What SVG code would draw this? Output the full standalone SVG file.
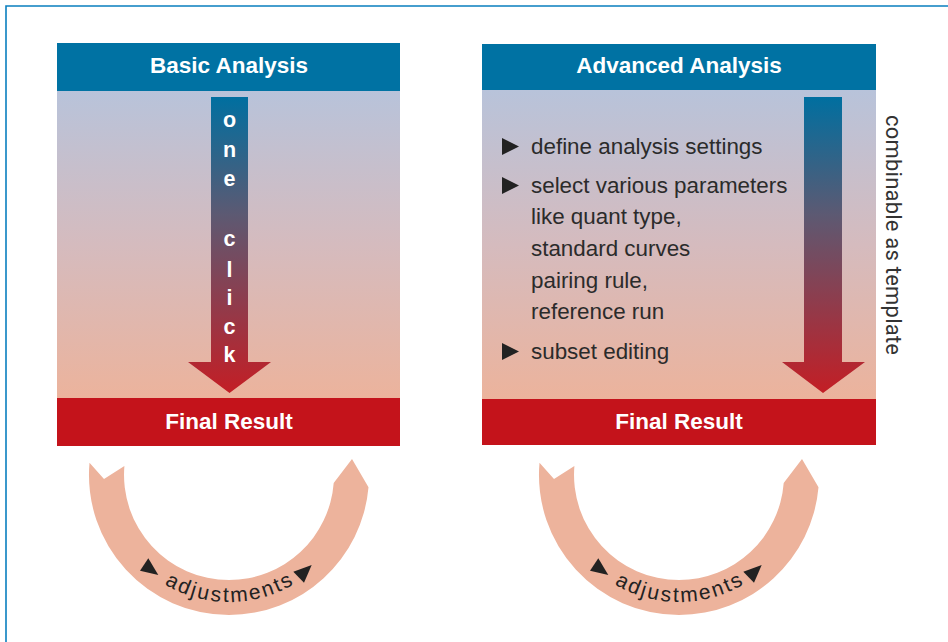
<svg xmlns="http://www.w3.org/2000/svg" width="948" height="642" viewBox="0 0 948 642">
<defs>
<linearGradient id="bodyGrad" x1="0" y1="0" x2="0" y2="1">
<stop offset="0" stop-color="#b8c3da"/>
<stop offset="0.5" stop-color="#d5bbbe"/>
<stop offset="1" stop-color="#ecb39c"/>
</linearGradient>
<linearGradient id="arrowGrad" gradientUnits="userSpaceOnUse" x1="0" y1="97" x2="0" y2="393">
<stop offset="0" stop-color="#006fa0"/>
<stop offset="0.4" stop-color="#5d5972"/>
<stop offset="1" stop-color="#c31e25"/>
</linearGradient>
<path id="arcL" d="M102,475 A127,127 0 0 0 356,475"/>
<path id="arcR" d="M552,475 A127,127 0 0 0 806,475"/>
</defs>
<style>
.hdr{fill:#0072a3}
.res{fill:#c4131b}
.ttl{font-family:"Liberation Sans",Arial,sans-serif;font-weight:bold;font-size:22.5px;fill:#fff;text-anchor:middle}
.oc{font-family:"Liberation Sans",Arial,sans-serif;font-weight:bold;font-size:21.5px;fill:#fff;text-anchor:middle}
.bt{font-family:"Liberation Sans",Arial,sans-serif;font-size:22.4px;fill:#2b2b2b}
.ring{fill:#edb39c}
.adj{font-family:"Liberation Sans",Arial,sans-serif;font-size:21px;fill:#222}
.tri{fill:#222}
</style>
<path d="M6,642 V6 H948" fill="none" stroke="#0a7fbf" stroke-width="1.6"/>

<g id="basic">
<rect x="57" y="91" width="343" height="308" fill="url(#bodyGrad)"/>
<rect class="hdr" x="57" y="43" width="343" height="48"/>
<text class="ttl" x="229" y="73">Basic Analysis</text>
<polygon points="211,97 248,97 248,362 271,362 229.5,393 188,362 211,362" fill="url(#arrowGrad)"/>
<text class="oc" x="229.5" y="127">o</text>
<text class="oc" x="229.5" y="157">n</text>
<text class="oc" x="229.5" y="186">e</text>
<text class="oc" x="229.5" y="246">c</text>
<text class="oc" x="229.5" y="277">l</text>
<text class="oc" x="229.5" y="305">i</text>
<text class="oc" x="229.5" y="334">c</text>
<text class="oc" x="229.5" y="362">k</text>
</g>
<g id="basic-result">
<rect class="res" x="57" y="398" width="343" height="48"/>
<text class="ttl" x="229" y="429">Final Result</text>
</g>

<g id="advanced">
<rect x="482" y="90" width="394" height="309" fill="url(#bodyGrad)"/>
<rect class="hdr" x="482" y="44" width="394" height="46"/>
<text class="ttl" x="679" y="73">Advanced Analysis</text>
<polygon points="804,97 842,97 842,362 865,362 823,393 782,362 804,362" fill="url(#arrowGrad)"/>
<polygon class="tri" points="502,138 502,155 519,146.5"/>
<polygon class="tri" points="502,177 502,194 519,185.5"/>
<polygon class="tri" points="502,343 502,360 519,351.5"/>
<text class="bt" x="531" y="154">define analysis settings</text>
<text class="bt" x="531" y="193">select various parameters</text>
<text class="bt" x="531" y="224">like quant type,</text>
<text class="bt" x="531" y="256">standard curves</text>
<text class="bt" x="531" y="288">pairing rule,</text>
<text class="bt" x="531" y="319">reference run</text>
<text class="bt" x="531" y="359">subset editing</text>
</g>
<g id="advanced-result">
<rect class="res" x="482" y="399" width="394" height="46"/>
<text class="ttl" x="679" y="429">Final Result</text>
</g>

<g id="template-label">
<text transform="translate(886,235) rotate(90)" text-anchor="middle" font-family="Roboto,'Liberation Sans',sans-serif" font-size="22" fill="#333" textLength="240">combinable as template</text>
</g>

<g id="connectors">
<g id="loop-basic">
<path class="ring" d="M89.5,462.8 A140,140 0 0 0 229,615 A140,140 0 0 0 368.5,487.2 L352,459 L333.7,482.9 A105,105 0 0 1 229,580 A105,105 0 0 1 124.4,466.1 L104,479 Z"/>
<polygon class="tri" points="140,570.7 148.3,558.3 158.3,575"/>
<polygon class="tri" points="293.3,571.7 304,582.7 311.7,565"/>
<text class="adj"><textPath href="#arcL" startOffset="50%" text-anchor="middle" textLength="136" lengthAdjust="spacing">adjustments</textPath></text>
</g>
<g id="loop-advanced">
<path class="ring" d="M539.5,462.8 A140,140 0 0 0 679,615 A140,140 0 0 0 818.5,487.2 L802,459 L783.7,482.9 A105,105 0 0 1 679,580 A105,105 0 0 1 574.4,466.1 L554,479 Z"/>
<polygon class="tri" points="590,570.7 598.3,558.3 608.3,575"/>
<polygon class="tri" points="743.3,571.7 754,582.7 761.7,565"/>
<text class="adj"><textPath href="#arcR" startOffset="50%" text-anchor="middle" textLength="136" lengthAdjust="spacing">adjustments</textPath></text>
</g>
</g>
</svg>
